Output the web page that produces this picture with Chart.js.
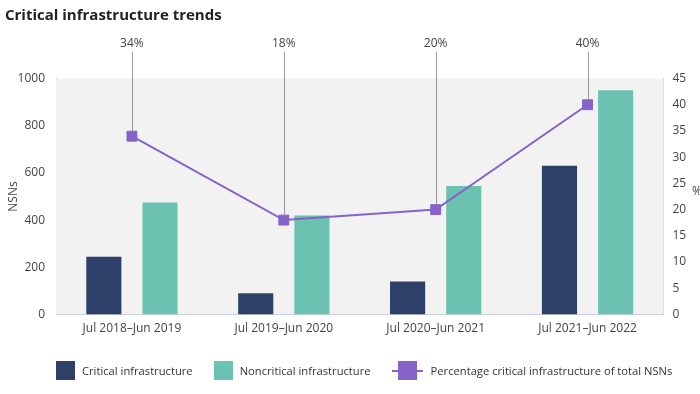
<!DOCTYPE html>
<html>
<head>
<meta charset="utf-8">
<script src="https://cdn.jsdelivr.net/npm/chart.js@4"></script>
<style>
  body { margin: 0; background: #fff; }
  #wrap { position: relative; width: 700px; height: 394px; }
  #legend {
    position: absolute; left: 56px; top: 361px;
    display: flex; align-items: center; white-space: nowrap;
    font: 11.2px "Open Sans", sans-serif; color: #333;
  }
  .item { display: flex; align-items: center; margin-right: 21px; }
  .box { width: 19px; height: 19px; margin-right: 7px; flex: none; }
  .lineKey { position: relative; width: 31px; height: 19px; margin-right: 8px; flex: none; }
  .lineKey:before { content: ''; position: absolute; left: 0; right: 0; top: 9px; height: 2px; background: #8563c8; }
  .lineKey:after { content: ''; position: absolute; left: 6px; top: 0; width: 19px; height: 19px; background: #8563c8; }
</style>
</head>
<body>
<div id="wrap">
  <canvas id="chart" width="700" height="394"></canvas>
  <div id="legend">
    <div class="item"><span class="box" style="background:#2e4068"></span>Critical infrastructure</div>
    <div class="item"><span class="box" style="background:#6bc2b0"></span>Noncritical infrastructure</div>
    <div class="item"><span class="lineKey"></span>Percentage critical infrastructure of total NSNs</div>
  </div>
</div>
<script>
const periods = ['Jul 2018\u2013Jun 2019', 'Jul 2019\u2013Jun 2020', 'Jul 2020\u2013Jun 2021', 'Jul 2021\u2013Jun 2022'];
const critical = [245, 90, 140, 630];
const noncritical = [475, 420, 545, 950];
const percentCritical = [34, 18, 20, 40];

const font = '"Open Sans", sans-serif';

// grey plot background, leader lines with % labels, and the upright % axis title
const extras = {
  id: 'extras',
  beforeDatasetsDraw(chart) {
    const { ctx, chartArea: a } = chart;
    ctx.save();
    ctx.fillStyle = '#f2f2f2';
    ctx.fillRect(a.left, a.top, a.right - a.left, a.bottom - a.top);
    ctx.restore();
  },
  afterDatasetsDraw(chart) {
    const { ctx } = chart;
    const meta = chart.getDatasetMeta(0);
    ctx.save();
    ctx.strokeStyle = '#9a9a9a';
    ctx.lineWidth = 1;
    ctx.fillStyle = '#444';
    ctx.font = '12px ' + font;
    ctx.textAlign = 'center';
    ctx.textBaseline = 'middle';
    meta.data.forEach((pt, i) => {
      const x = Math.round(pt.x) + 0.5;
      ctx.beginPath();
      ctx.moveTo(x, 52);
      ctx.lineTo(x, pt.y - 5);
      ctx.stroke();
      ctx.fillText(percentCritical[i] + '%', pt.x, 43.5);
    });
    ctx.textAlign = 'left';
    ctx.fillText('%', 692, 192);
    ctx.restore();
  }
};

new Chart(document.getElementById('chart'), {
  type: 'bar',
  data: {
    labels: periods,
    datasets: [
      {
        type: 'line',
        label: 'Percentage critical infrastructure of total NSNs',
        data: percentCritical,
        yAxisID: 'y1',
        borderColor: '#8563c8',
        backgroundColor: '#8563c8',
        borderWidth: 2,
        pointStyle: 'rect',
        pointRadius: 7,
        pointBorderWidth: 1,
        order: 0
      },
      {
        label: 'Critical infrastructure',
        data: critical,
        backgroundColor: '#2e4068',
        yAxisID: 'y',
        order: 1
      },
      {
        label: 'Noncritical infrastructure',
        data: noncritical,
        backgroundColor: '#6bc2b0',
        yAxisID: 'y',
        order: 1
      }
    ]
  },
  options: {
    responsive: false,
    animation: false,
    categoryPercentage: 0.74,
    barPercentage: 0.625,
    layout: { padding: { left: 5 } },
    plugins: {
      legend: { display: false },
      tooltip: { enabled: false },
      title: {
        display: true,
        text: 'Critical infrastructure trends',
        align: 'start',
        color: '#222',
        font: { family: font, size: 15, weight: 'bold' },
        padding: { top: 6.5, bottom: 54 }
      }
    },
    scales: {
      x: {
        grid: { display: false, drawTicks: false },
        border: { color: '#a9b0bf' },
        ticks: { color: '#444', font: { family: font, size: 12 }, padding: 7, maxRotation: 0 },
        afterFit: s => { s.height = 79.5; }
      },
      y: {
        position: 'left',
        min: 0,
        max: 1000,
        grid: { display: false, drawTicks: false },
        border: { color: '#a9b0bf' },
        ticks: { stepSize: 200, color: '#444', font: { family: font, size: 12 }, padding: 11, callback: v => String(v) },
        title: { display: true, text: 'NSNs', color: '#444', font: { family: font, size: 12 }, padding: { top: 1, bottom: 0 } },
        afterFit: s => { s.width = 51; }
      },
      y1: {
        position: 'right',
        min: 0,
        max: 45,
        grid: { display: false, drawTicks: false },
        border: { color: '#c8c8c8' },
        ticks: { stepSize: 5, color: '#444', font: { family: font, size: 12 }, padding: 9 },
        afterFit: s => { s.width = 36.5; }
      }
    }
  },
  plugins: [extras]
});
</script>
</body>
</html>
